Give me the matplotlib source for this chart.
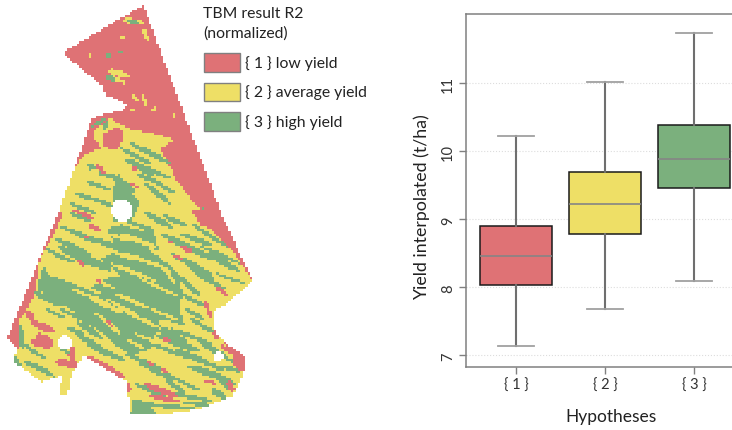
import numpy as np
import matplotlib
matplotlib.use('Agg')
import matplotlib.pyplot as plt
from matplotlib.path import Path
from matplotlib.colors import ListedColormap
from matplotlib.patches import Rectangle

plt.rcParams['font.family'] = ['Lato', 'DejaVu Sans']

categories = ['{ 1 }', '{ 2 }', '{ 3 }']
whisker_low = [7.14, 7.68, 8.09]
q1 = [8.03, 8.79, 9.46]
median = [8.46, 9.23, 9.89]
q3 = [8.91, 9.70, 10.39]
whisker_high = [10.23, 11.02, 11.74]
y_ticks = [7, 8, 9, 10, 11]
legend_labels = ['{ 1 } low yield', '{ 2 } average yield', '{ 3 } high yield']
colors = ['#DF7275', '#EEDF66', '#7BB07D']

# ---- field map, zones (image pixel coordinates) ----
field = [(143,7),(223,220),(252,282),(227,305),(213,313),(213,330),(223,343),(245,358),(245,370),
         (233,397),(200,410),(160,416),(130,416),(127,383),(83,357),(72,375),(67,397),(60,395),
         (62,377),(42,383),(13,363),(18,350),(7,340),(60,210),(92,120),(107,115),(123,112),
         (127,107),(118,102),(105,97),(103,88),(62,55)]
yellow_zone = [(93,133),(110,120),(133,133),(173,143),(160,150),(180,187),(200,207),(205,225),(233,253),(252,282),
               (227,305),(213,313),(213,330),(223,343),(245,370),(233,397),(200,410),(160,416),(130,416),
               (127,383),(83,357),(72,375),(67,397),(60,395),(62,377),(42,383),(13,363),(18,350),(20,320),
               (32,290),(40,260),(57,230),(63,197),(73,173),(83,157),(100,150)]
red_patches = [
    [(60,210),(43,253),(20,310),(7,340),(14,345),(18,320),(24,317),(33,300),(37,283),(40,260),(53,233),(63,217)],
    [(190,210),(220,210),(240,253),(230,247),(217,233),(200,227)],
    [(103,135),(120,128),(124,142),(115,152),(103,148)],
    [(70,145),(93,135),(88,150),(84,158),(72,170),(66,180)],
    [(173,150),(195,190),(203,215),(190,200),(175,180),(168,160)],
]
# (x0, y0, x1, y1, width): elongated zones
green_mass = [
    [(107,230),(133,223),(153,230),(160,257),(177,273),(182,293),(180,313),(185,327),(160,320),(150,350),
     (133,357),(120,350),(100,333),(80,317),(37,290),(43,267),(50,277),(87,290),(107,280),(120,277),(100,260),(117,253)],
    [(118,175),(128,190),(140,205),(132,222),(112,224),(112,195)],
    [(130,416),(133,400),(146,403),(157,416)],
]
green_stripes = [
    (57,248,110,270,6),(63,253,110,272,5),(85,238,135,255,5),(160,235,215,262,6),(180,235,212,247,4),
    (207,255,240,273,5),(187,267,213,280,5),(177,277,200,297,5),(163,217,187,227,4),(143,213,173,230,5),
    (38,287,70,307,6),(33,293,63,308,5),(80,313,113,333,6),(77,323,103,340,5),(67,330,83,335,3),
    (143,323,187,343,6),(157,337,200,353,6),(173,350,213,367,5),(187,367,233,383,6),(200,343,227,360,5),
    (23,363,50,373,4),(13,357,20,367,4),(180,403,213,407,3),(210,390,227,400,6),(220,367,240,373,3),
    (20,327,23,350,5),(130,145,170,165,4),(125,160,155,178,5),(110,175,135,195,6),(85,165,105,175,4),
    (145,185,170,205,4),(135,175,160,185,3),(75,195,100,203,3),(70,215,90,222,3),(92,128,106,120,3),
    (195,205,205,212,3),(150,295,175,305,3),(95,370,115,378,3),(105,365,125,385,2),(165,380,185,395,4),
    (60,228,100,245,4),(55,240,90,256,4),(45,250,75,265,3),(80,180,110,192,3),(70,205,95,215,3),
    (95,200,120,212,3),(88,170,115,180,3),(120,150,150,165,4),(135,165,170,180,3),(150,180,175,195,3),
    (190,225,230,250,3),(200,248,240,265,3),(170,255,210,275,4),(195,275,225,290,3),(180,295,210,310,3),
    (185,310,205,322,3),(215,275,245,285,2),(125,355,165,372,4),(140,365,175,382,3),(150,345,190,360,3),
    (170,330,210,345,3),(190,320,215,335,3),(165,375,200,392,3),(195,360,225,372,3),(210,350,235,365,3),
    (135,385,165,398,4),(175,395,210,402,3),(205,372,235,385,3),(140,405,195,410,3),(215,378,232,392,4),
    (60,310,100,330,3),(45,310,65,320,3),(75,335,105,352,4),(85,345,125,362,4),(22,345,45,360,3),
    (30,365,55,378,3),(60,350,75,358,2),(100,320,125,340,4),(95,350,110,358,3),
]
yellow_on_green = [
    (120,235,158,250,4),(60,275,100,295,3),(110,265,155,282,3),(115,295,150,310,3),(90,300,125,315,3),
    (130,315,160,330,3),(103,320,120,335,4),(150,250,170,265,3),(125,340,145,350,2),(115,255,140,262,3),
    (108,235,130,243,3),(125,255,170,272,3),(140,280,178,298,2),(70,290,110,305,2),(85,278,115,290,2),
    (120,310,150,325,2),(105,300,140,318,2),(135,335,155,343,2),(95,315,115,328,2),(150,310,178,322,2),
    (160,265,175,285,2),(120,225,145,232,2),
]
yellow_spots = [
    (123,22,143,25,5),(143,30,147,43,3),(107,72,130,78,5),(110,78,125,85,3),(132,97,138,102,3),(142,97,146,107,3),
    (88,57,92,60,3),(120,40,124,40,2),(173,115,175,120,3),(152,110,156,112,3),(130,112,135,112,2),(128,133,173,142,4),
    (94,135,100,143,5),(105,165,60,200,5),
]
green_spots = [(128,22,140,26,4),(105,55,110,59,3),(118,53,122,55,2),(105,77,115,83,4),(108,122,104,132,3)]
red_stripes = [
    (30,323,55,333,6),(35,337,53,348,12),(30,342,42,347,5),(55,363,80,367,6),(72,347,71,365,5),(83,357,127,380,6),
    (143,385,177,398,5),(150,397,180,403,4),(127,385,130,393,4),(233,358,243,373,7),(213,332,218,340,5),
    (220,347,240,357,4),(228,382,233,393,5),(180,248,192,253,4),(173,257,182,260,3),(163,340,171,343,4),(147,363,153,366,3),
    (205,303,210,318,3),(215,288,228,297,3),(88,227,100,232,3),(73,212,93,220,3),(84,238,90,240,2),(28,312,33,322,6),
    (78,262,84,268,2),(167,242,173,245,2),(97,280,100,285,2),(107,322,113,330,2),(205,382,215,385,2),(160,370,170,375,2),
    (95,165,105,175,3),(132,168,137,172,3),(130,185,140,190,2),
]
holes = [(122,212,11),(65,344,7),(218,358,5)]
legend_swatches = [(204,54,36,19),(204,84,36,18),(204,113,36,19)]


def lens(x0, y0, x1, y1, w):
    t = np.linspace(0, 1, 9)
    dx, dy = x1 - x0, y1 - y0
    n = max(np.hypot(dx, dy), 1)
    nx, ny = -dy / n, dx / n
    h = w / 2 * np.sqrt(np.clip(np.sin(np.pi * t), 0, 1)) + 0.6
    xs, ys = x0 + dx * t, y0 + dy * t
    return Path(np.r_[np.c_[xs + nx * h, ys + ny * h], np.c_[xs - nx * h, ys - ny * h][::-1]])


cell = 2.4
gx, gy = np.meshgrid(np.arange(0, 260, cell) + cell / 2, np.arange(0, 425, cell) + cell / 2)
pts = np.c_[gx.ravel(), gy.ravel()]
zones = np.zeros(len(pts), dtype=int)
def paint(path, value):
    zones[path.contains_points(pts)] = value
paint(Path(field), 1)
paint(Path(yellow_zone), 2)
for p in green_mass:
    paint(Path(p), 3)
for s in green_stripes:
    paint(lens(*s), 3)
for s in yellow_on_green + yellow_spots:
    paint(lens(*s), 2)
for s in green_spots:
    paint(lens(*s), 3)
for p in red_patches:
    paint(Path(p), 1)
for s in red_stripes:
    paint(lens(*s), 1)
outside = ~Path(field).contains_points(pts)
zones[outside] = 0
for cx, cy, r in holes:
    zones[np.hypot(pts[:, 0] - cx, pts[:, 1] - cy) < r] = 0
zones = zones.reshape(gx.shape)

fig = plt.figure(figsize=(7.32, 4.31), dpi=100)
bg = fig.add_axes([0, 0, 1, 1])
bg.axis('off')
bg.imshow(zones, cmap=ListedColormap(['#FFFFFF'] + colors), vmin=0, vmax=3,
          extent=(0, gx.shape[1] * cell, gy.shape[0] * cell, 0), interpolation='nearest', aspect='auto')
bg.set_xlim(0, 732)
bg.set_ylim(431, 0)

txt = '#222222'
bg.text(203, 14, 'TBM result R2', fontsize=11.3, va='center', color=txt)
bg.text(203, 34, '(normalized)', fontsize=11.3, va='center', color=txt)
for (x, y, w, h), c, lab in zip(legend_swatches, colors, legend_labels):
    bg.add_patch(Rectangle((x, y), w, h, facecolor=c, edgecolor='#808080', lw=1.0))
    bg.text(245, y + h / 2, lab, fontsize=11.3, va='center', color=txt)

# ---- box plot ----
W, H = 732, 431
ax = fig.add_axes([466 / W, 1 - 368 / H, (W - 466) / W, (368 - 15) / H])
stats = [dict(med=m, q1=a, q3=b, whislo=l, whishi=h, fliers=[], label=c)
         for m, a, b, l, h, c in zip(median, q1, q3, whisker_low, whisker_high, categories)]
res = ax.bxp(stats, positions=[1, 2, 3], widths=0.8, capwidths=0.4, patch_artist=True, showfliers=False,
             boxprops=dict(edgecolor='#1a1a1a', linewidth=1.1),
             medianprops=dict(color='#858585', linewidth=1.2),
             whiskerprops=dict(color='#6f6f6f', linewidth=1.5),
             capprops=dict(color='#a0a0a0', linewidth=1.3), zorder=3)
for b, c in zip(res['boxes'], colors):
    b.set_facecolor(c)
ax.set_xlim(0.438, 3.427)
ax.set_ylim(6.83, 12.02)
ax.set_yticks(y_ticks)
ax.set_yticklabels([str(v) for v in y_ticks], rotation=90, va='center', fontsize=10.5, color='#333333')
ax.tick_params(axis='y', length=5, width=1, color='#808080', pad=3)
ax.tick_params(axis='x', length=5, width=1, color='#808080', labelsize=10.5, labelcolor='#333333', pad=3)
ax.yaxis.grid(True, color='#dddddd', linestyle=':', linewidth=0.8)
ax.set_axisbelow(True)
for side in ['top', 'left', 'bottom']:
    ax.spines[side].set_color('#808080')
    ax.spines[side].set_linewidth(1.1)
ax.spines['right'].set_visible(False)
bg.text(422, 207, 'Yield interpolated (t/ha)', fontsize=12.8, rotation=90, ha='center', va='center', color=txt)
bg.text(611, 417, 'Hypotheses', fontsize=12.5, ha='center', va='center', color=txt)

fig.savefig('out.png', dpi=100)
